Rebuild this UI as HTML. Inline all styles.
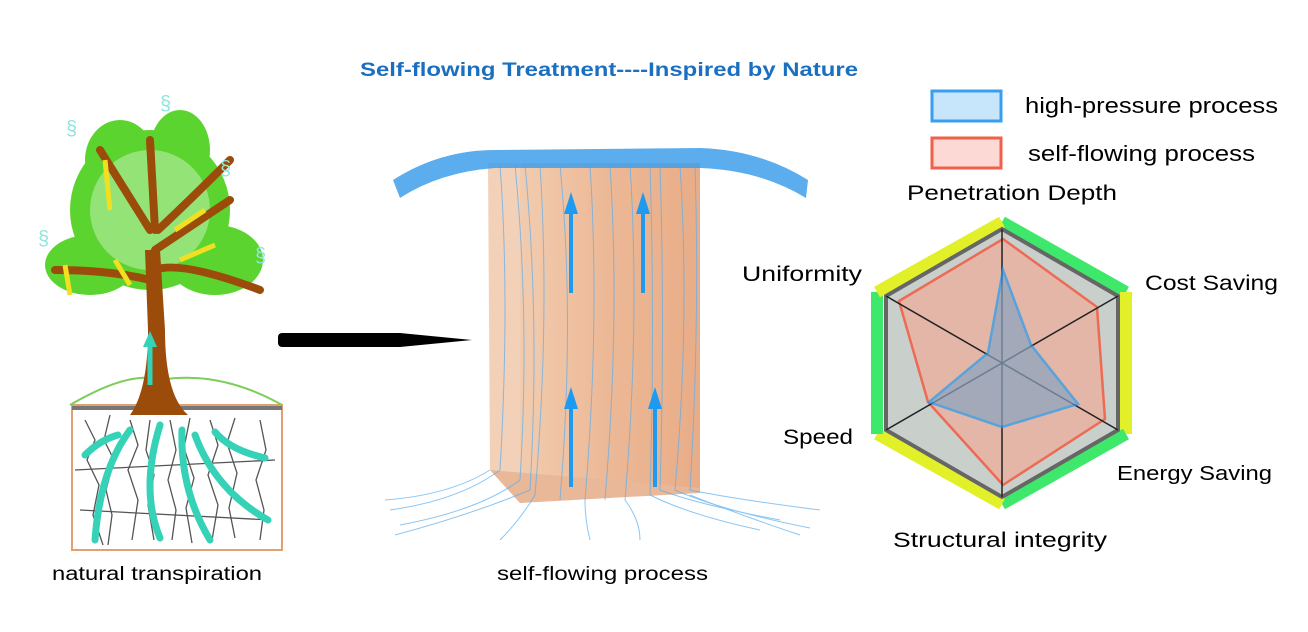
<!DOCTYPE html>
<html><head><meta charset="utf-8"><style>
html,body{margin:0;padding:0;background:#fff;}
svg{display:block;font-family:"Liberation Sans",sans-serif;}
</style></head><body>
<svg width="1308" height="632" viewBox="0 0 1308 632" xmlns="http://www.w3.org/2000/svg">
<defs>
<linearGradient id="wood" x1="0" x2="1" y1="0" y2="0">
<stop offset="0" stop-color="#f0c6a6"/><stop offset="0.5" stop-color="#eab08a"/><stop offset="1" stop-color="#e6a47a"/>
</linearGradient>
<marker id="ab" markerUnits="userSpaceOnUse" markerWidth="24" markerHeight="16" refX="2" refY="7" orient="auto" overflow="visible"><path d="M0,0 L22,7 L0,14 z" fill="#1e9bf0"/></marker>
<marker id="at" markerUnits="userSpaceOnUse" markerWidth="20" markerHeight="16" refX="2" refY="7" orient="auto" overflow="visible"><path d="M0,0 L16,7 L0,14 z" fill="#35d2b8"/></marker>
</defs>
<text x="360" y="76" textLength="498" lengthAdjust="spacingAndGlyphs" font-size="19" font-weight="bold" fill="#1a6fc0">Self-flowing Treatment----Inspired by Nature</text>

<!-- tree -->
<rect x="72" y="405" width="210" height="145" fill="#fff" stroke="#e0a070" stroke-width="2"/>
<line x1="72" y1="408" x2="282" y2="408" stroke="#777" stroke-width="4"/>
<path d="M70,405 Q130,370 160,380 Q220,370 282,405" fill="none" stroke="#7ccd5a" stroke-width="2"/>
<g stroke="#555" stroke-width="1.3" fill="none">
<path d="M85,420 l10,20 l-8,20 l12,25 l-6,30 l10,30"/><path d="M110,415 l-6,25 l10,20 l-8,30 l6,25 l-4,30"/>
<path d="M130,420 l8,25 l-10,25 l10,30 l-6,40"/><path d="M150,420 l-4,30 l8,25 l-6,30 l6,35"/>
<path d="M170,420 l6,30 l-8,30 l8,30 l-4,30"/><path d="M190,418 l-6,30 l10,30 l-8,30 l6,35"/>
<path d="M210,420 l8,25 l-10,30 l10,30 l-6,35"/><path d="M235,418 l-8,25 l10,30 l-8,35 l6,30"/>
<path d="M260,420 l6,30 l-10,30 l8,30 l-4,30"/><path d="M75,470 l200,-10 M80,510 l190,10"/>
</g>
<g fill="#5bd42f">
<ellipse cx="150" cy="210" rx="80" ry="80"/><ellipse cx="90" cy="265" rx="45" ry="30"/><ellipse cx="215" cy="260" rx="48" ry="35"/><ellipse cx="120" cy="160" rx="35" ry="40"/><ellipse cx="180" cy="150" rx="30" ry="40"/>
</g>
<g fill="#fff" opacity="0.35"><ellipse cx="150" cy="210" rx="60" ry="60"/></g>
<path d="M130,415 Q148,390 148,330 L145,250 L160,250 L165,330 Q165,395 188,415 z" fill="#9b4c0a"/>
<g stroke="#9b4c0a" stroke-width="8" fill="none" stroke-linecap="round">
<path d="M150,280 Q110,270 55,270"/><path d="M155,270 Q180,260 260,290"/><path d="M150,230 L100,150"/><path d="M155,230 L150,140"/><path d="M158,230 Q190,200 230,160"/><path d="M155,250 L230,200"/>
</g>
<g stroke="#f1e020" stroke-width="5" fill="none"><path d="M110,210 L105,160"/><path d="M70,295 L65,265"/><path d="M130,285 L115,260"/><path d="M180,260 L215,245"/><path d="M175,230 L205,210"/></g>
<line x1="150" y1="385" x2="150" y2="345" stroke="#35d2b8" stroke-width="5" marker-end="url(#at)"/>
<g stroke="#35d2b8" stroke-width="7" fill="none" stroke-linecap="round">
<path d="M85,455 Q100,440 118,435"/><path d="M95,540 Q100,470 130,430"/><path d="M160,538 Q140,490 160,425"/><path d="M210,540 Q180,490 182,430"/><path d="M268,520 Q215,490 195,435"/><path d="M265,458 Q230,450 215,432"/>
</g>
<g fill="#8fe6dc" font-size="20"><text x="160" y="110">§</text><text x="66" y="135">§</text><text x="220" y="175">§</text><text x="38" y="245">§</text><text x="255" y="262">§</text></g>
<text x="52" y="580" textLength="210" lengthAdjust="spacingAndGlyphs" font-size="19">natural transpiration</text>

<!-- arrow -->
<path d="M282,333 L400,333 L472,340 L400,347 L282,347 z" fill="#000"/>
<rect x="278" y="333" width="10" height="14" rx="4" fill="#000"/>

<!-- block -->
<path d="M488,163 L520,163 L520,503 L490,470 z" fill="#f3d0b8"/>
<rect x="520" y="163" width="180" height="330" fill="url(#wood)" opacity="0.9"/>
<path d="M490,470 L520,503 L700,493 L700,488" fill="#e8b898"/>
<g stroke="#5aaef0" stroke-width="1" fill="none" opacity="0.7">
<path d="M500,165 Q510,300 500,470 Q460,500 390,510"/><path d="M515,165 Q530,320 520,480 Q480,510 400,525"/>
<path d="M540,165 Q550,320 535,495 Q520,520 500,540"/><path d="M560,165 Q575,320 560,500"/>
<path d="M590,165 Q600,320 585,500 Q585,520 590,540"/><path d="M610,165 Q620,320 605,500"/>
<path d="M630,165 Q640,320 625,500 Q640,520 640,540"/><path d="M660,165 Q665,320 660,490 Q700,505 780,520"/>
<path d="M680,165 Q690,320 675,490 Q720,510 810,528"/><path d="M695,165 Q700,320 690,490 Q740,500 820,510"/>
<path d="M490,470 Q450,495 385,500"/><path d="M690,495 Q740,515 800,535"/>
<path d="M525,165 Q540,320 530,490 Q470,515 395,535"/><path d="M650,165 Q655,320 650,495 Q690,515 760,530"/>
</g>
<path d="M393,180 Q440,150 495,150 L700,148 Q760,150 808,180 L806,198 Q760,170 700,168 L495,168 Q440,172 400,198 z" fill="#3f9fea" opacity="0.85"/>
<g stroke="#1e9bf0" stroke-width="4"><line x1="571" y1="293" x2="571" y2="212" marker-end="url(#ab)"/><line x1="643" y1="293" x2="643" y2="212" marker-end="url(#ab)"/><line x1="571" y1="487" x2="571" y2="407" marker-end="url(#ab)"/><line x1="655" y1="487" x2="655" y2="407" marker-end="url(#ab)"/></g>
<text x="497" y="580" textLength="211" lengthAdjust="spacingAndGlyphs" font-size="19">self-flowing process</text>

<!-- legend -->
<rect x="932" y="91" width="69" height="30" fill="#c8e6fb" stroke="#3a9ef0" stroke-width="3"/>
<rect x="932" y="138" width="69" height="30" fill="#fcd9d4" stroke="#f0604a" stroke-width="3"/>
<text x="1025" y="113" textLength="253" lengthAdjust="spacingAndGlyphs" font-size="22">high-pressure process</text>
<text x="1028" y="161" textLength="227" lengthAdjust="spacingAndGlyphs" font-size="22">self-flowing process</text>

<!-- radar -->
<g stroke-width="12" fill="none">
<line x1="1002" y1="222" x2="1126" y2="292" stroke="#3ee86a"/>
<line x1="1126" y1="292" x2="1126" y2="434" stroke="#e2f02a"/>
<line x1="1126" y1="434" x2="1002" y2="504" stroke="#3ee86a"/>
<line x1="1002" y1="504" x2="877" y2="434" stroke="#e2f02a"/>
<line x1="877" y1="434" x2="877" y2="292" stroke="#3ee86a"/>
<line x1="877" y1="292" x2="1002" y2="222" stroke="#e2f02a"/>
</g>
<polygon points="1002,229 1118,296 1118,430 1002,497 886,430 886,296" fill="#c9cfcb" stroke="#666" stroke-width="4"/>
<polygon points="1003,239 1097,307 1105,419 1003,485 928,402 899,301" fill="#e8b2a3" opacity="0.85" stroke="#f45a40" stroke-width="2.5"/>
<g stroke="#222" stroke-width="1.5"><line x1="1002" y1="229" x2="1002" y2="497"/><line x1="886" y1="296" x2="1118" y2="430"/><line x1="1118" y1="296" x2="886" y2="430"/></g>
<polygon points="1003,270 1031,345 1078,404 1002,427 929,402 988,353" fill="#8aa4c2" opacity="0.7" stroke="#1e9bf0" stroke-width="2.5"/>
<g font-size="21">
<text x="907" y="200" textLength="210" lengthAdjust="spacingAndGlyphs">Penetration Depth</text>
<text x="742" y="281" textLength="120" lengthAdjust="spacingAndGlyphs">Uniformity</text>
<text x="1145" y="290" textLength="133" lengthAdjust="spacingAndGlyphs">Cost Saving</text>
<text x="783" y="444" textLength="70" lengthAdjust="spacingAndGlyphs">Speed</text>
<text x="1117" y="480" textLength="155" lengthAdjust="spacingAndGlyphs" font-size="20">Energy Saving</text>
<text x="893" y="547" textLength="214" lengthAdjust="spacingAndGlyphs">Structural integrity</text></g>
</svg>
</body></html>
